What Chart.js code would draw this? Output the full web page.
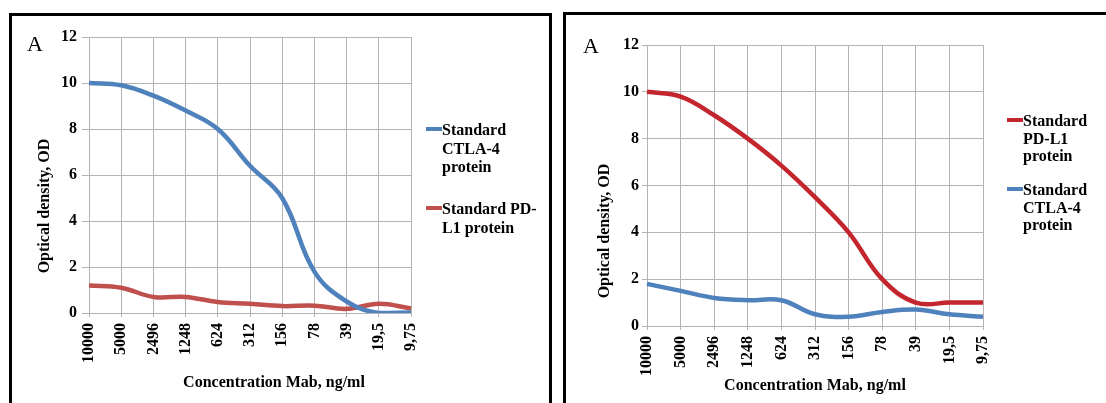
<!DOCTYPE html>
<html>
<head>
<meta charset="utf-8">
<script src="https://cdn.jsdelivr.net/npm/chart.js@4"></script>
<style>
  html, body { margin: 0; padding: 0; background: #fff; overflow: hidden; }
  body { width: 1106px; height: 403px; position: relative; }
  .frame { position: absolute; border: 3px solid #000; box-sizing: border-box; }
  #frameLeft { left: 9px; top: 13px; width: 543px; height: 420px; }
  #frameRight { left: 563px; top: 12px; width: 600px; height: 420px; }
  canvas { position: absolute; left: 0; top: 0; }
</style>
</head>
<body>
<div class="frame" id="frameLeft"><canvas id="chartLeft" width="537" height="387"></canvas></div>
<div class="frame" id="frameRight"><canvas id="chartRight" width="540" height="388"></canvas></div>
<script>
const concentrations = ['10000', '5000', '2496', '1248', '624', '312', '156', '78', '39', '19,5', '9,75'];

// left panel
const ctlaLeft = [10.0, 9.9, 9.45, 8.8, 8.0, 6.4, 5.0, 1.8, 0.5, 0.0, 0.02];
const pdl1Left = [1.2, 1.1, 0.7, 0.7, 0.48, 0.4, 0.3, 0.32, 0.18, 0.4, 0.2];

// right panel
const pdl1Right = [10.0, 9.8, 9.0, 8.0, 6.85, 5.5, 4.0, 2.0, 1.0, 1.0, 1.0];
const ctlaRight = [1.8, 1.5, 1.2, 1.1, 1.1, 0.5, 0.4, 0.6, 0.7, 0.5, 0.4];

const yMin = 0;
const yMax = 12;
const yStep = 2;

const BLUE = '#4F81BD';
const RED_SOFT = '#C0504D';
const RED_DARK = '#C4262E';
const GRID = '#b4b4b4';

Chart.defaults.font.family = '"Liberation Serif", "Times New Roman", serif';
Chart.defaults.color = '#000';

// letter, axis titles and legend drawn by hand (Excel style wrapped legend)
function makeDecor(cfg) {
    return {
        id: 'decor',
        afterDraw(chart) {
            const ctx = chart.ctx;
            ctx.save();
            ctx.fillStyle = '#000';
            ctx.font = '22px "Liberation Serif"';
            ctx.textAlign = 'left';
            ctx.textBaseline = 'alphabetic';
            ctx.fillText('A', cfg.letter[0], cfg.letter[1]);

            ctx.font = 'bold 16px "Liberation Serif"';
            ctx.textAlign = 'center';
            ctx.textBaseline = 'middle';
            ctx.fillText('Concentration Mab, ng/ml', cfg.xTitle[0], cfg.xTitle[1]);
            ctx.save();
            ctx.translate(cfg.yTitle[0], cfg.yTitle[1]);
            ctx.rotate(-Math.PI / 2);
            ctx.fillText('Optical density, OD', 0, 0);
            ctx.restore();

            ctx.textAlign = 'left';
            ctx.textBaseline = 'alphabetic';
            cfg.legend.forEach(function (item, i) {
                const ds = chart.data.datasets[i];
                ctx.strokeStyle = ds.borderColor;
                ctx.lineWidth = 4;
                ctx.beginPath();
                ctx.moveTo(cfg.legendX, item.y);
                ctx.lineTo(cfg.legendX + 16, item.y);
                ctx.stroke();
                item.lines.forEach(function (t, j) {
                    ctx.fillText(t, cfg.legendX + 16, item.y + 6 + j * cfg.lineHeight);
                });
            });
            ctx.restore();
        }
    };
}

function buildOptions(p) {
    return {
        responsive: false,
        animation: false,
        layout: { padding: { left: 0, right: p.padRight, top: p.padTop, bottom: 0 } },
        plugins: { legend: { display: false }, tooltip: { enabled: false } },
        elements: { point: { radius: 0 }, line: { tension: 0.4, borderWidth: 4.5 } },
        scales: {
            x: {
                grid: { color: GRID, tickLength: 4 },
                border: { color: GRID },
                ticks: {
                    autoSkip: false,
                    maxRotation: 90,
                    minRotation: 90,
                    padding: 6,
                    font: { size: 16, weight: 'bold' }
                },
                afterFit: function (scale) { scale.height = p.xHeight; }
            },
            y: {
                min: yMin,
                max: yMax,
                grid: { color: GRID, tickLength: p.yTick },
                border: { color: GRID },
                ticks: {
                    stepSize: yStep,
                    padding: p.yPad,
                    font: { size: 16, weight: 'bold' }
                },
                afterFit: function (scale) { scale.width = p.yWidth; }
            }
        }
    };
}

const chartLeft = new Chart(document.getElementById('chartLeft').getContext('2d'), {
    type: 'line',
    data: {
        labels: concentrations,
        datasets: [
            { label: 'Standard CTLA-4 protein', data: ctlaLeft, borderColor: BLUE, backgroundColor: BLUE },
            { label: 'Standard PD-L1 protein', data: pdl1Left, borderColor: RED_SOFT, backgroundColor: RED_SOFT }
        ]
    },
    options: buildOptions({ padRight: 138, padTop: 21, xHeight: 90, yWidth: 77, yTick: 7, yPad: 5 }),
    plugins: [makeDecor({
        letter: [15, 35],
        xTitle: [262, 367],
        yTitle: [33, 190],
        legendX: 414,
        lineHeight: 18.5,
        legend: [
            { y: 113, lines: ['Standard', 'CTLA-4', 'protein'] },
            { y: 192, lines: ['Standard PD-', 'L1 protein'] }
        ]
    })]
});

const chartRight = new Chart(document.getElementById('chartRight').getContext('2d'), {
    type: 'line',
    data: {
        labels: concentrations,
        datasets: [
            { label: 'Standard PD-L1 protein', data: pdl1Right, borderColor: RED_DARK, backgroundColor: RED_DARK },
            { label: 'Standard CTLA-4 protein', data: ctlaRight, borderColor: BLUE, backgroundColor: BLUE }
        ]
    },
    options: buildOptions({ padRight: 123, padTop: 30, xHeight: 77, yWidth: 81, yTick: 5, yPad: 3 }),
    plugins: [makeDecor({
        letter: [17, 38],
        xTitle: [249, 371],
        yTitle: [39, 216],
        legendX: 441,
        lineHeight: 17.5,
        legend: [
            { y: 105, lines: ['Standard', 'PD-L1', 'protein'] },
            { y: 174, lines: ['Standard', 'CTLA-4', 'protein'] }
        ]
    })]
});
</script>
</body>
</html>
